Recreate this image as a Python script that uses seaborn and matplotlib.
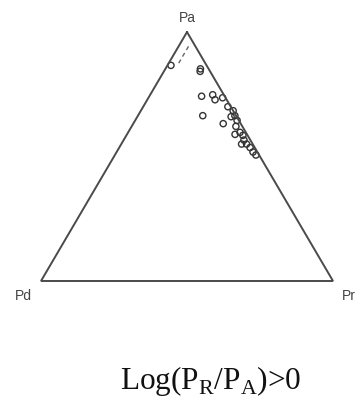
import numpy as np
import pandas as pd
import matplotlib
matplotlib.use("Agg")
import matplotlib.pyplot as plt
import seaborn as sns

# Ternary compositions (fractions of Pa, Pd, Pr) for each sample
pa = [0.866, 0.852, 0.842, 0.742, 0.748, 0.728, 0.736, 0.664, 0.632,
      0.700, 0.684, 0.664, 0.660, 0.645, 0.621, 0.597, 0.589, 0.585,
      0.566, 0.550, 0.550, 0.536, 0.518, 0.506]
pd_ = [0.122, 0.028, 0.034, 0.079, 0.038, 0.040, 0.010, 0.114, 0.060,
       0.010, 0.005, 0.004, 0.019, 0.006, 0.022, 0.020, 0.041, 0.016,
       0.022, 0.038, 0.021, 0.016, 0.015, 0.011]
pr = [0.012, 0.120, 0.124, 0.179, 0.214, 0.232, 0.254, 0.222, 0.308,
      0.290, 0.316, 0.332, 0.321, 0.349, 0.357, 0.383, 0.370, 0.399,
      0.412, 0.412, 0.429, 0.448, 0.467, 0.483]

vertex_labels = ["Pa", "Pd", "Pr"]
title = "Log(P$_\\mathregular{R}$/P$_\\mathregular{A}$)>0"

# short dashed guide near the Pa apex (constant Pr)
guide_pr = 0.034
guide_pa = [0.875, 0.955]

H = np.sqrt(3) / 2


def to_xy(a, r):
    a = np.asarray(a, dtype=float)
    r = np.asarray(r, dtype=float)
    return r + a / 2, a * H


x, y = to_xy(pa, pr)
df = pd.DataFrame({"x": x, "y": y, "Pd": pd_})

sns.set_theme(style="white")
plt.rcParams["font.family"] = ["Liberation Sans", "DejaVu Sans"]

fig = plt.figure(figsize=(3.59, 4.0), dpi=100)
ax = fig.add_axes([0, 0, 1, 1])

# triangle outline
tri_x, tri_y = to_xy([1, 0, 0, 1], [0, 0, 1, 0])
ax.plot(tri_x, tri_y, color="#4a4a4a", lw=1.4, solid_joinstyle="miter")

gx, gy = to_xy(guide_pa, [guide_pr, guide_pr])
ax.plot(gx, gy, color="#666666", lw=1.0, ls=(0, (3, 2.5)))

sns.scatterplot(data=df, x="x", y="y", ax=ax, marker="o", s=20,
                facecolors="none", edgecolor="#333333", linewidth=1.0,
                legend=False)

lab_kw = dict(ha="center", va="baseline", fontsize=10, color="#444444")
ax.text(0.5, 0.90, vertex_labels[0], **lab_kw)
ax.text(-0.06, -0.066, vertex_labels[1], **lab_kw)
ax.text(1.055, -0.066, vertex_labels[2], **lab_kw)

ax.text(0.582, -0.375, title, ha="center", va="baseline", fontsize=22.5,
        family=["Liberation Serif", "DejaVu Serif"], color="#111111")

ax.set_xlim(-41 / 292, 318 / 292)
ax.set_ylim(-119 / 287.5, 281 / 287.5)
ax.set_axis_off()

fig.savefig("out.png", dpi=100, facecolor="white")
